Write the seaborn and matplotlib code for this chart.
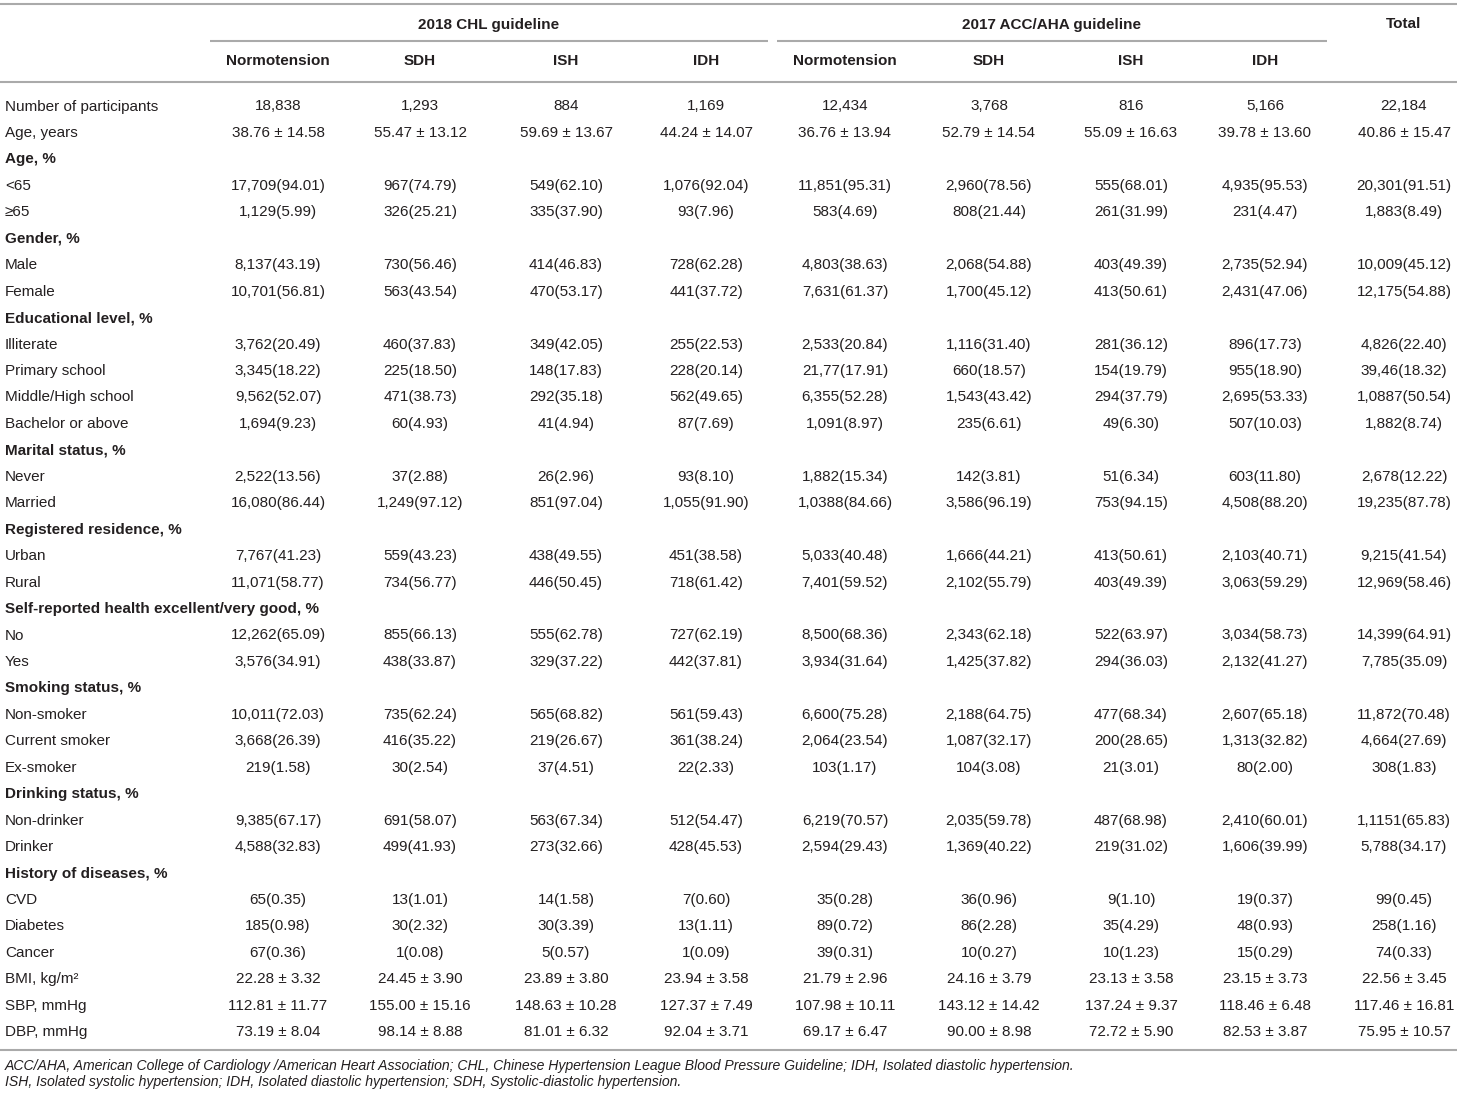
import matplotlib
matplotlib.use("Agg")
import matplotlib.pyplot as plt
import seaborn as sns
import pandas as pd

# ---------------- data ----------------
group_headers = ["2018 CHL guideline", "2017 ACC/AHA guideline", "Total"]
sub_headers = ["Normotension", "SDH", "ISH", "IDH",
               "Normotension", "SDH", "ISH", "IDH", ""]

row_labels = [
    "Number of participants", "Age, years", "Age, %", "<65", "\u226565",
    "Gender, %", "Male", "Female",
    "Educational level, %", "Illiterate", "Primary school", "Middle/High school", "Bachelor or above",
    "Marital status, %", "Never", "Married",
    "Registered residence, %", "Urban", "Rural",
    "Self-reported health excellent/very good, %", "No", "Yes",
    "Smoking status, %", "Non-smoker", "Current smoker", "Ex-smoker",
    "Drinking status, %", "Non-drinker", "Drinker",
    "History of diseases, %", "CVD", "Diabetes", "Cancer",
    "BMI, kg/m\u00b2", "SBP, mmHg", "DBP, mmHg",
]
section_rows = ["Age, %", "Gender, %", "Educational level, %", "Marital status, %",
                "Registered residence, %", "Self-reported health excellent/very good, %",
                "Smoking status, %", "Drinking status, %", "History of diseases, %"]

chl_normo = ["18,838", "38.76 \u00b1 14.58", "", "17,709(94.01)", "1,129(5.99)", "", "8,137(43.19)", "10,701(56.81)",
             "", "3,762(20.49)", "3,345(18.22)", "9,562(52.07)", "1,694(9.23)", "", "2,522(13.56)", "16,080(86.44)",
             "", "7,767(41.23)", "11,071(58.77)", "", "12,262(65.09)", "3,576(34.91)", "", "10,011(72.03)",
             "3,668(26.39)", "219(1.58)", "", "9,385(67.17)", "4,588(32.83)", "", "65(0.35)", "185(0.98)",
             "67(0.36)", "22.28 \u00b1 3.32", "112.81 \u00b1 11.77", "73.19 \u00b1 8.04"]
chl_sdh = ["1,293", "55.47 \u00b1 13.12", "", "967(74.79)", "326(25.21)", "", "730(56.46)", "563(43.54)",
           "", "460(37.83)", "225(18.50)", "471(38.73)", "60(4.93)", "", "37(2.88)", "1,249(97.12)",
           "", "559(43.23)", "734(56.77)", "", "855(66.13)", "438(33.87)", "", "735(62.24)",
           "416(35.22)", "30(2.54)", "", "691(58.07)", "499(41.93)", "", "13(1.01)", "30(2.32)",
           "1(0.08)", "24.45 \u00b1 3.90", "155.00 \u00b1 15.16", "98.14 \u00b1 8.88"]
chl_ish = ["884", "59.69 \u00b1 13.67", "", "549(62.10)", "335(37.90)", "", "414(46.83)", "470(53.17)",
           "", "349(42.05)", "148(17.83)", "292(35.18)", "41(4.94)", "", "26(2.96)", "851(97.04)",
           "", "438(49.55)", "446(50.45)", "", "555(62.78)", "329(37.22)", "", "565(68.82)",
           "219(26.67)", "37(4.51)", "", "563(67.34)", "273(32.66)", "", "14(1.58)", "30(3.39)",
           "5(0.57)", "23.89 \u00b1 3.80", "148.63 \u00b1 10.28", "81.01 \u00b1 6.32"]
chl_idh = ["1,169", "44.24 \u00b1 14.07", "", "1,076(92.04)", "93(7.96)", "", "728(62.28)", "441(37.72)",
           "", "255(22.53)", "228(20.14)", "562(49.65)", "87(7.69)", "", "93(8.10)", "1,055(91.90)",
           "", "451(38.58)", "718(61.42)", "", "727(62.19)", "442(37.81)", "", "561(59.43)",
           "361(38.24)", "22(2.33)", "", "512(54.47)", "428(45.53)", "", "7(0.60)", "13(1.11)",
           "1(0.09)", "23.94 \u00b1 3.58", "127.37 \u00b1 7.49", "92.04 \u00b1 3.71"]
acc_normo = ["12,434", "36.76 \u00b1 13.94", "", "11,851(95.31)", "583(4.69)", "", "4,803(38.63)", "7,631(61.37)",
             "", "2,533(20.84)", "21,77(17.91)", "6,355(52.28)", "1,091(8.97)", "", "1,882(15.34)", "1,0388(84.66)",
             "", "5,033(40.48)", "7,401(59.52)", "", "8,500(68.36)", "3,934(31.64)", "", "6,600(75.28)",
             "2,064(23.54)", "103(1.17)", "", "6,219(70.57)", "2,594(29.43)", "", "35(0.28)", "89(0.72)",
             "39(0.31)", "21.79 \u00b1 2.96", "107.98 \u00b1 10.11", "69.17 \u00b1 6.47"]
acc_sdh = ["3,768", "52.79 \u00b1 14.54", "", "2,960(78.56)", "808(21.44)", "", "2,068(54.88)", "1,700(45.12)",
           "", "1,116(31.40)", "660(18.57)", "1,543(43.42)", "235(6.61)", "", "142(3.81)", "3,586(96.19)",
           "", "1,666(44.21)", "2,102(55.79)", "", "2,343(62.18)", "1,425(37.82)", "", "2,188(64.75)",
           "1,087(32.17)", "104(3.08)", "", "2,035(59.78)", "1,369(40.22)", "", "36(0.96)", "86(2.28)",
           "10(0.27)", "24.16 \u00b1 3.79", "143.12 \u00b1 14.42", "90.00 \u00b1 8.98"]
acc_ish = ["816", "55.09 \u00b1 16.63", "", "555(68.01)", "261(31.99)", "", "403(49.39)", "413(50.61)",
           "", "281(36.12)", "154(19.79)", "294(37.79)", "49(6.30)", "", "51(6.34)", "753(94.15)",
           "", "413(50.61)", "403(49.39)", "", "522(63.97)", "294(36.03)", "", "477(68.34)",
           "200(28.65)", "21(3.01)", "", "487(68.98)", "219(31.02)", "", "9(1.10)", "35(4.29)",
           "10(1.23)", "23.13 \u00b1 3.58", "137.24 \u00b1 9.37", "72.72 \u00b1 5.90"]
acc_idh = ["5,166", "39.78 \u00b1 13.60", "", "4,935(95.53)", "231(4.47)", "", "2,735(52.94)", "2,431(47.06)",
           "", "896(17.73)", "955(18.90)", "2,695(53.33)", "507(10.03)", "", "603(11.80)", "4,508(88.20)",
           "", "2,103(40.71)", "3,063(59.29)", "", "3,034(58.73)", "2,132(41.27)", "", "2,607(65.18)",
           "1,313(32.82)", "80(2.00)", "", "2,410(60.01)", "1,606(39.99)", "", "19(0.37)", "48(0.93)",
           "15(0.29)", "23.15 \u00b1 3.73", "118.46 \u00b1 6.48", "82.53 \u00b1 3.87"]
total = ["22,184", "40.86 \u00b1 15.47", "", "20,301(91.51)", "1,883(8.49)", "", "10,009(45.12)", "12,175(54.88)",
         "", "4,826(22.40)", "39,46(18.32)", "1,0887(50.54)", "1,882(8.74)", "", "2,678(12.22)", "19,235(87.78)",
         "", "9,215(41.54)", "12,969(58.46)", "", "14,399(64.91)", "7,785(35.09)", "", "11,872(70.48)",
         "4,664(27.69)", "308(1.83)", "", "1,1151(65.83)", "5,788(34.17)", "", "99(0.45)", "258(1.16)",
         "74(0.33)", "22.56 \u00b1 3.45", "117.46 \u00b1 16.81", "75.95 \u00b1 10.57"]

footnotes = [
    "ACC/AHA, American College of Cardiology /American Heart Association; CHL, Chinese Hypertension League "
    "Blood Pressure Guideline; IDH, Isolated diastolic hypertension.",
    "ISH, Isolated systolic hypertension; IDH, Isolated diastolic hypertension; SDH, Systolic-diastolic hypertension.",
]

columns = [chl_normo, chl_sdh, chl_ish, chl_idh, acc_normo, acc_sdh, acc_ish, acc_idh, total]
df = pd.DataFrame({f"c{i}": col for i, col in enumerate(columns)}, index=row_labels)

# ---------------- layout ----------------
sns.set_theme(style="white")
plt.rcParams["font.family"] = ["Liberation Sans", "DejaVu Sans"]

W, H = 1461, 1099
fig = plt.figure(figsize=(W / 100, H / 100), dpi=100)
ax = fig.add_axes([0, 0, 1, 1])
ax.set_xlim(0, W)
ax.set_ylim(H, 0)
ax.axis("off")

txt = "#231f20"
line_c = "#aaaaaa"
fs = 11.0

col_x = [278, 420, 566, 706, 845, 989, 1131, 1265, 1404]
row0 = 110.5
dy = 26.45

# rules
ax.plot([0, 1457], [4, 4], color=line_c, lw=1.5, solid_capstyle="butt")
ax.plot([210, 768], [41, 41], color=line_c, lw=1.5, solid_capstyle="butt")
ax.plot([777, 1327], [41, 41], color=line_c, lw=1.5, solid_capstyle="butt")
ax.plot([0, 1457], [82, 82], color=line_c, lw=1.5, solid_capstyle="butt")
ax.plot([0, 1457], [1050, 1050], color=line_c, lw=1.5, solid_capstyle="butt")

# headers
gx = [489, 1052, 1404]
for g, x in zip(group_headers, gx):
    ax.text(x, 28.5, g, ha="center", va="baseline", fontsize=fs, fontweight="bold", color=txt)
for s, x in zip(sub_headers, col_x):
    if s:
        ax.text(x, 65, s, ha="center", va="baseline", fontsize=fs, fontweight="bold", color=txt)

# body
for i, label in enumerate(df.index):
    y = row0 + i * dy
    bold = label in section_rows
    ax.text(5, y, label, ha="left", va="baseline", fontsize=fs,
            fontweight="bold" if bold else "normal", color=txt)
    for j, x in enumerate(col_x):
        v = df.iloc[i, j]
        if v:
            ax.text(x, y, v, ha="center", va="baseline", fontsize=fs, color=txt)

# footnotes
for k, f in enumerate(footnotes):
    ax.text(5, 1070 + k * 16, f, ha="left", va="baseline", fontsize=10.1,
            fontstyle="italic", color=txt)

fig.savefig("out.png", dpi=100)
